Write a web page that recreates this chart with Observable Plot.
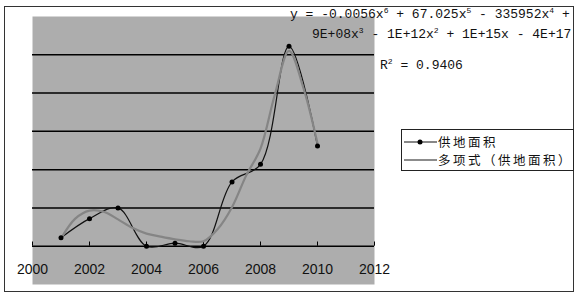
<!DOCTYPE html>
<html>
<head>
<meta charset="utf-8">
<script src="https://cdn.jsdelivr.net/npm/d3@7"></script>
<script src="https://cdn.jsdelivr.net/npm/@observablehq/plot@0.6"></script>
<style>
  html, body { margin: 0; padding: 0; background: #fff; }
  #chart svg { display: block; }
</style>
</head>
<body>
<div id="chart"></div>
<script>
// ---- data (y in gridline units) ----
const years = [2001, 2002, 2003, 2004, 2005, 2006, 2007, 2008, 2009, 2010];
const supplyArea = [0.22, 0.72, 1.0, 0.0, 0.08, 0.0, 1.68, 2.14, 5.22, 2.62];

// polynomial trendline as drawn in the picture
const trendX = [2001, 2001.5, 2002, 2002.5, 2003, 2003.5, 2004, 2004.5, 2005, 2005.5,
                2006, 2006.5, 2007, 2007.5, 2008, 2008.5, 2009, 2009.5, 2010];
const trendY = [0.2, 0.72, 0.93, 0.9, 0.7, 0.48, 0.33, 0.25, 0.18, 0.13,
                0.13, 0.45, 1.02, 1.85, 2.55, 3.95, 5.1, 4.15, 2.68];

const xTicks = [2000, 2002, 2004, 2006, 2008, 2010, 2012];
const gridValues = [0, 1, 2, 3, 4, 5];

const seriesName = "供地面积";
const trendName = "多项式（供地面积）";
const eqLine1 = [["y = -0.0056x", "6"], [" + 67.025x", "5"], [" - 335952x", "4"], [" +", null]];
const eqLine2 = [["9E+08x", "3"], [" - 1E+12x", "2"], [" + 1E+15x", null], [" - 4E+17", null]];
const eqLine3 = [["R", "2"], [" = 0.9406", null]];

const series = years.map((x, i) => ({x, y: supplyArea[i]}));
const trend = trendX.map((x, i) => ({x, y: trendY[i]}));

const chart = Plot.plot({
  width: 577,
  height: 293,
  marginLeft: 32,
  marginRight: 203,
  marginTop: 16,
  marginBottom: 9,
  x: {domain: [2000, 2012], axis: null, label: null},
  y: {domain: [-1, 6], axis: null, label: null},
  style: {background: "transparent", fontFamily: "Liberation Sans, Arial, sans-serif"},
  marks: [
    Plot.frame({fill: "#adadad", stroke: "none"}),
    Plot.ruleY(gridValues, {stroke: "#000", strokeWidth: 1.5}),
    Plot.ruleX(xTicks, {y1: 0, y2: 0.11, stroke: "#000", strokeWidth: 1}),
    Plot.axisX({
      ticks: xTicks, tickSize: 0, tickFormat: d => String(d), label: null,
      fontSize: 14, dy: -29, fill: "#111", fontFamily: "Liberation Sans, Arial, sans-serif"
    }),
    Plot.line(series, {x: "x", y: "y", curve: "catmull-rom", stroke: "#111", strokeWidth: 1.2}),
    Plot.line(trend, {x: "x", y: "y", curve: "catmull-rom", stroke: "#858585", strokeWidth: 2.2}),
    Plot.dot(series, {x: "x", y: "y", r: 2.5, fill: "#000", stroke: "none"})
  ]
});

document.getElementById("chart").appendChild(chart);

const svg = d3.select(chart);

// outer chart border
svg.append("rect")
  .attr("x", 4.5).attr("y", 6.5).attr("width", 569).attr("height", 285)
  .attr("fill", "none").attr("stroke", "#333").attr("stroke-width", 1);

// trendline equation
function eqText(parts, x, y) {
  const t = svg.append("text")
    .attr("x", x).attr("y", y)
    .attr("text-anchor", "start")
    .attr("font-family", "Liberation Mono, DejaVu Sans Mono, monospace")
    .attr("font-size", 13).attr("fill", "#111")
    .style("white-space", "pre");
  let shift = 0;
  parts.forEach(([main, sup]) => {
    const m = t.append("tspan").text(main);
    if (shift) { m.attr("dy", shift); shift = 0; }
    if (sup) {
      t.append("tspan").attr("dy", -5).attr("font-size", 8).text(sup);
      shift = 5;
    }
  });
}
eqText(eqLine1, 290, 17.5);
eqText(eqLine2, 312, 37.5);
eqText(eqLine3, 380, 68.5);

// legend
const lg = svg.append("g").attr("text-anchor", "start");
lg.append("rect")
  .attr("x", 401.5).attr("y", 129.5).attr("width", 172).attr("height", 41)
  .attr("fill", "#fff").attr("stroke", "#222").attr("stroke-width", 1);
lg.append("line").attr("x1", 404).attr("x2", 437).attr("y1", 142).attr("y2", 142)
  .attr("stroke", "#111").attr("stroke-width", 1.2);
lg.append("circle").attr("cx", 420).attr("cy", 142).attr("r", 2.5).attr("fill", "#000");
lg.append("line").attr("x1", 404).attr("x2", 437).attr("y1", 160).attr("y2", 160)
  .attr("stroke", "#666").attr("stroke-width", 1.5);
lg.append("text").attr("x", 438).attr("y", 146.5).attr("text-anchor", "start")
  .attr("font-family", "Noto Sans CJK SC, sans-serif").attr("font-size", 12.5)
  .attr("letter-spacing", 2.5).attr("fill", "#111")
  .text(seriesName);
lg.append("text").attr("x", 438).attr("y", 165.2).attr("text-anchor", "start")
  .attr("font-family", "Noto Sans CJK SC, sans-serif").attr("font-size", 12.5)
  .attr("letter-spacing", 2.5).attr("fill", "#111")
  .text(trendName);
</script>
</body>
</html>
